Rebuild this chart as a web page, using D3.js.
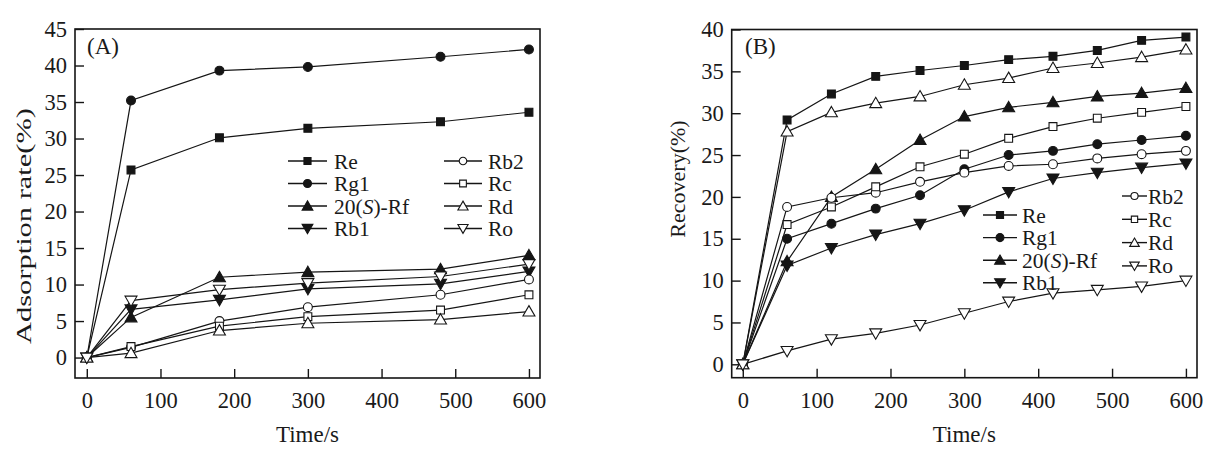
<!DOCTYPE html>
<html>
<head>
<meta charset="utf-8">
<script src="https://cdn.jsdelivr.net/npm/d3@7"></script>
<style>
  html, body { margin: 0; padding: 0; background: #fff; }
  svg text { font-family: "Liberation Serif", "Times New Roman", serif; fill: #1a1a1a; }
</style>
</head>
<body>
<svg id="chart" width="1224" height="468"></svg>
<script>
// ---------- data ----------
const seriesNames = ["Re", "Rg1", "20(S)-Rf", "Rb1", "Rb2", "Rc", "Rd", "Ro"];
const markerTypes = ["squareF", "circleF", "triUpF", "triDownF", "circleO", "squareO", "triUpO", "triDownO"];

// Panel A: adsorption rate (%)
const timesA = [0, 60, 180, 300, 480, 600];
const aRe   = [0, 25.7, 30.1, 31.4, 32.3, 33.6];
const aRg1  = [0, 35.2, 39.3, 39.8, 41.2, 42.2];
const aRf   = [0, 5.5, 11.0, 11.7, 12.1, 14.0];
const aRb1  = [0, 6.6, 7.9, 9.4, 10.1, 11.8];
const aRb2  = [0, 1.4, 5.0, 6.9, 8.6, 10.7];
const aRc   = [0, 1.5, 4.3, 5.6, 6.5, 8.6];
const aRd   = [0, 0.6, 3.7, 4.7, 5.2, 6.3];
const aRo   = [0, 7.8, 9.3, 10.2, 11.1, 12.8];

// Panel B: recovery (%)
const timesB = [0, 60, 120, 180, 240, 300, 360, 420, 480, 540, 600];
const bRe   = [0, 29.2, 32.3, 34.4, 35.1, 35.7, 36.4, 36.8, 37.5, 38.7, 39.1];
const bRg1  = [0, 15.0, 16.8, 18.6, 20.2, 23.3, 25.0, 25.5, 26.3, 26.8, 27.3];
const bRf   = [0, 12.3, 20.0, 23.3, 26.8, 29.6, 30.7, 31.3, 32.0, 32.4, 33.0];
const bRb1  = [0, 11.8, 13.9, 15.5, 16.8, 18.4, 20.6, 22.2, 22.9, 23.5, 24.0];
const bRb2  = [0, 18.8, 19.9, 20.5, 21.8, 22.9, 23.7, 23.9, 24.6, 25.1, 25.5];
const bRc   = [0, 16.7, 18.8, 21.2, 23.6, 25.1, 27.0, 28.4, 29.4, 30.1, 30.8];
const bRd   = [0, 27.8, 30.1, 31.2, 32.0, 33.4, 34.2, 35.4, 36.0, 36.7, 37.6];
const bRo   = [0, 1.6, 3.0, 3.7, 4.7, 6.1, 7.5, 8.5, 8.9, 9.3, 10.0];

const xTicks = [0, 100, 200, 300, 400, 500, 600];
const yTicksA = [0, 5, 10, 15, 20, 25, 30, 35, 40, 45];
const yTicksB = [0, 5, 10, 15, 20, 25, 30, 35, 40];

const valuesA = [aRe, aRg1, aRf, aRb1, aRb2, aRc, aRd, aRo];
const valuesB = [bRe, bRg1, bRf, bRb1, bRb2, bRc, bRd, bRo];

// ---------- drawing ----------
const svg = d3.select("#chart");
const INK = "#151515";

function symbolFor(type, size) {
  let sym;
  if (type.startsWith("square")) sym = d3.symbolSquare;
  else if (type.startsWith("circle")) sym = d3.symbolCircle;
  else sym = d3.symbolTriangle;
  return d3.symbol().type(sym).size(size)();
}
function drawMarker(g, type, x, y, size) {
  const filled = type.endsWith("F");
  const rot = type.startsWith("triDown") ? 180 : 0;
  const dy = type.startsWith("triUp") ? 1 : (type.startsWith("triDown") ? -1 : 0);
  g.append("path")
    .attr("d", symbolFor(type, size))
    .attr("transform", `translate(${x},${y + dy}) rotate(${rot})`)
    .attr("fill", filled ? INK : "#fff")
    .attr("stroke", INK)
    .attr("stroke-width", 1.1);
}

function drawPanel(cfg) {
  const g = svg.append("g");
  const x = d3.scaleLinear().domain(cfg.xDomain).range([cfg.left, cfg.right]);
  const y = d3.scaleLinear().domain(cfg.yDomain).range([cfg.bottom, cfg.top]);

  // axes with inward ticks
  const ax = g.append("g").attr("transform", `translate(0,${cfg.bottom})`)
    .call(d3.axisBottom(x).tickValues(xTicks).tickFormat(d3.format("d")).tickSize(-9).tickPadding(14));
  const ay = g.append("g").attr("transform", `translate(${cfg.left},0)`)
    .call(d3.axisLeft(y).tickValues(cfg.yTicks).tickFormat(d3.format("d")).tickSize(-9).tickPadding(8));
  [ax, ay].forEach(a => {
    a.select(".domain").remove();
    a.selectAll("line").attr("stroke", INK).attr("stroke-width", 1.4);
    a.selectAll("text").attr("font-size", 22.5).attr("fill", "#1a1a1a")
      .style("font-family", '"Liberation Serif", serif');
  });

  // frame
  g.append("rect")
    .attr("x", cfg.left).attr("y", cfg.top)
    .attr("width", cfg.right - cfg.left).attr("height", cfg.bottom - cfg.top)
    .attr("fill", "none").attr("stroke", INK).attr("stroke-width", 1.6);

  // series
  const line = d3.line().x(d => x(d[0])).y(d => y(d[1]));
  cfg.values.forEach((vals, i) => {
    const pts = cfg.times.map((t, j) => [t, vals[j]]);
    g.append("path").attr("d", line(pts))
      .attr("fill", "none").attr("stroke", INK).attr("stroke-width", 1.2);
  });
  cfg.values.forEach((vals, i) => {
    cfg.times.forEach((t, j) => drawMarker(g, markerTypes[i], x(t), y(vals[j]), 62));
  });

  // panel label
  g.append("text").attr("x", cfg.labelX).attr("y", 54).attr("font-size", 23).text(cfg.label);

  // axis titles
  g.append("text").attr("x", (cfg.left + cfg.right) / 2).attr("y", 442)
    .attr("text-anchor", "middle").attr("font-size", 23).text("Time/s");
  const yt = g.append("text")
    .attr("transform", `translate(${cfg.yTitleX},${cfg.yTitleY}) rotate(-90)`)
    .attr("text-anchor", "middle").attr("dominant-baseline", "central")
    .attr("font-size", cfg.yTitleFs).text(cfg.yTitle);
  if (cfg.yTitleLen) yt.attr("textLength", cfg.yTitleLen).attr("lengthAdjust", "spacingAndGlyphs");

  // legend
  cfg.legendCols.forEach(col => {
    col.items.forEach((idx, k) => {
      const ly = col.y0 + k * col.dy;
      g.append("line").attr("x1", col.x1).attr("x2", col.x2).attr("y1", ly).attr("y2", ly)
        .attr("stroke", INK).attr("stroke-width", 1.4);
      drawMarker(g, markerTypes[idx], (col.x1 + col.x2) / 2, ly, col.msize);
      const t = g.append("text").attr("x", col.tx).attr("y", ly + 7.5).attr("font-size", col.fs);
      const name = seriesNames[idx];
      if (name === "20(S)-Rf") {
        t.append("tspan").text("20(");
        t.append("tspan").attr("font-style", "italic").text("S");
        t.append("tspan").text(")-Rf");
      } else {
        t.text(name);
      }
    });
  });
}

drawPanel({
  left: 75, right: 540, top: 29, bottom: 378,
  xDomain: [-16, 615], yDomain: [-2.8, 45],
  yTicks: yTicksA, times: timesA, values: valuesA,
  label: "(A)", labelX: 87,
  yTitle: "Adsorption rate(%)", yTitleX: 23, yTitleY: 226, yTitleLen: 236, yTitleFs: 22,
  legendCols: [
    { items: [0, 1, 2, 3], x1: 288, x2: 327, tx: 334, y0: 161, dy: 22.5, fs: 21.5, msize: 50 },
    { items: [4, 5, 6, 7], x1: 444, x2: 482, tx: 488, y0: 161, dy: 22.5, fs: 21.5, msize: 45 }
  ]
});

drawPanel({
  left: 731.7, right: 1197, top: 29.5, bottom: 377.7,
  xDomain: [-15, 615], yDomain: [-1.6, 40],
  yTicks: yTicksB, times: timesB, values: valuesB,
  label: "(B)", labelX: 745,
  yTitle: "Recovery(%)", yTitleX: 677, yTitleY: 179, yTitleLen: null, yTitleFs: 22,
  legendCols: [
    { items: [0, 1, 2, 3], x1: 983, x2: 1017, tx: 1022, y0: 215, dy: 22.6, fs: 21.5, msize: 50 },
    { items: [4, 5, 6, 7], x1: 1122, x2: 1147, tx: 1148, y0: 196, dy: 23.3, fs: 21.5, msize: 40 }
  ]
});
</script>
</body>
</html>
